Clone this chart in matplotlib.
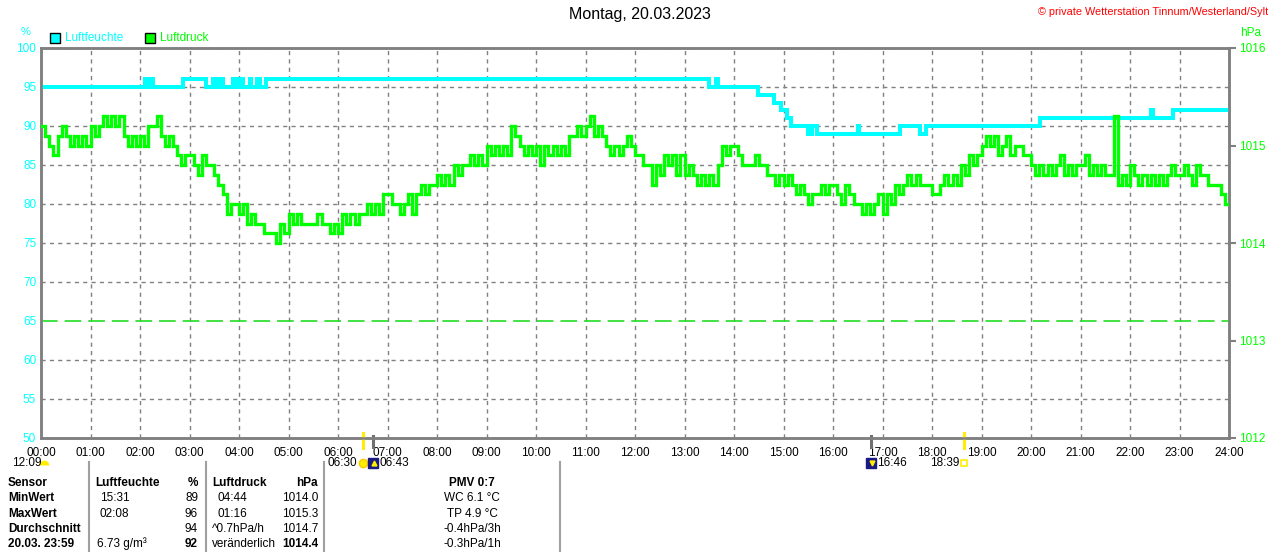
# -*- coding: utf-8 -*-
# Tagesgrafik Luftfeuchte / Luftdruck, Wetterstation Tinnum

import matplotlib.pyplot as plt
import numpy as np
from matplotlib.lines import Line2D
from matplotlib.patches import Rectangle

plt.rcParams['font.family'] = ['Liberation Sans', 'DejaVu Sans']
plt.rcParams['lines.scale_dashes'] = False

W, H = 1280, 552
CYAN = '#00ffff'
GRUEN = '#00ff00'
GRAU = '#808080'

# Luftfeuchte in %, Zeitpunkte an denen sich der Wert aendert
feuchte_zeit = ["00:00", "02:06", "02:09", "02:12", "02:16", "02:52", "03:20",
                "03:29", "03:33", "03:37", "03:41", "03:53", "03:57", "04:01",
                "04:05", "04:13", "04:15", "04:22", "04:25", "04:33", "13:30",
                "13:38", "13:41", "14:29", "14:48", "14:57", "15:04", "15:09",
                "15:30", "15:35", "15:40", "16:30", "16:32", "17:21", "17:45",
                "17:53", "20:11", "22:26", "22:28", "22:52", "24:00"]
feuchte_wert = [95, 96, 95, 96, 95, 96, 95, 96, 95, 96, 95, 96, 95, 96, 95,
                96, 95, 96, 95, 96, 95, 96, 95, 94, 93, 92, 91, 90, 89, 90,
                89, 90, 89, 90, 89, 90, 91, 92, 91, 92, 92]

# Luftdruck alle 5 Minuten, Zehntel hPa ueber 1014.0 (eine Zeile je Stunde)
druck_basis = 1014.0
druck_zehntel = [
    12, 11, 10, 9, 11, 12, 11, 10, 11, 10, 11, 10,   # 00
    12, 11, 12, 13, 12, 13, 12, 13, 11, 10, 11, 10,  # 01
    11, 10, 12, 12, 13, 11, 10, 11, 10, 9, 8, 9,     # 02
    9, 8, 7, 9, 8, 8, 7, 6, 5, 3, 4, 4,              # 03
    3, 4, 2, 3, 2, 2, 1, 1, 1, 0, 2, 1,              # 04
    3, 2, 3, 2, 2, 2, 2, 3, 2, 2, 1, 2,              # 05
    1, 3, 2, 3, 2, 3, 3, 4, 3, 4, 3, 5,              # 06
    5, 4, 4, 3, 4, 5, 3, 5, 6, 5, 6, 6,              # 07
    7, 6, 7, 6, 8, 7, 8, 8, 9, 8, 9, 8,              # 08
    10, 9, 10, 9, 10, 9, 12, 11, 10, 9, 10, 9,       # 09
    10, 8, 10, 9, 10, 9, 10, 9, 11, 11, 12, 11,      # 10
    12, 13, 11, 12, 11, 10, 9, 10, 9, 10, 11, 10,    # 11
    9, 9, 8, 8, 6, 8, 7, 9, 8, 9, 7, 9,              # 12
    7, 8, 7, 6, 7, 6, 7, 6, 8, 10, 9, 10,            # 13
    10, 9, 8, 8, 8, 9, 8, 8, 7, 7, 6, 7,             # 14
    6, 7, 6, 5, 6, 5, 4, 5, 5, 6, 5, 6,              # 15
    6, 5, 4, 6, 5, 4, 4, 3, 4, 3, 4, 5,              # 16
    3, 5, 4, 6, 5, 6, 7, 6, 7, 6, 6, 6,              # 17
    5, 5, 6, 7, 6, 7, 6, 8, 7, 9, 8, 9,              # 18
    10, 11, 10, 11, 9, 10, 11, 9, 10, 10, 9, 9,      # 19
    8, 7, 8, 7, 8, 7, 8, 9, 7, 8, 7, 8,              # 20
    8, 9, 7, 8, 7, 8, 7, 7, 13, 6, 7, 6,             # 21
    8, 7, 6, 7, 6, 7, 6, 7, 6, 7, 8, 7,              # 22
    7, 8, 7, 6, 8, 7, 7, 6, 6, 6, 5, 4,              # 23
    4,                                               # 24:00
]
normaldruck = 1013.2

# Sonne / Mond
sonne_auf, sonne_unter = "06:30", "18:39"
mond_auf, mond_unter = "06:43", "16:46"

stunden = list(range(25))
feuchte_ticks = list(range(50, 101, 5))
druck_ticks = [1012, 1013, 1014, 1015, 1016]

# Tabelle unten
zeilen = ["Sensor", "MinWert", "MaxWert", "Durchschnitt", "20.03. 23:59"]
feuchte_zeiten = ["15:31", "02:08", "", "6.73 g/m³"]
feuchte_werte = ["89", "96", "94", "92"]
druck_zeiten = ["04:44", "01:16", "^0.7hPa/h", "veränderlich"]
druck_werte = ["1014.0", "1015.3", "1014.7", "1014.4"]
extra = ["PMV 0:7", "WC 6.1 °C", "TP 4.9 °C", "-0.4hPa/3h", "-0.3hPa/1h"]


def stunde(s):
    h, m = s.split(":")
    return int(h) + int(m) / 60.0


def fx(x):
    return x / W


def fy(y):
    return 1 - y / H


fig = plt.figure(figsize=(W / 100, H / 100), dpi=100)
ax = fig.add_axes([fx(41), fy(438), (1229 - 41) / W, (438 - 48) / H])

t_feuchte = [stunde(s) for s in feuchte_zeit]
ax.plot(t_feuchte, feuchte_wert, color=CYAN, lw=2.9, drawstyle='steps-post',
        solid_joinstyle='miter', zorder=3)

ax.set_xlim(0, 24)
ax.set_ylim(50, 100)
ax.set_xticks(stunden)
ax.set_xticklabels(["%02d:00" % h for h in stunden])
ax.set_yticks(feuchte_ticks)
ax.tick_params(axis='x', length=0, pad=6.5, labelsize=8.5, colors='black')
ax.tick_params(axis='y', length=0, pad=3.5, labelsize=8.5, labelcolor=CYAN)
ax.grid(True, color=GRAU, lw=1.0, linestyle=(0, (3, 3)))
for wert, gl in zip(feuchte_ticks, ax.yaxis.get_gridlines()):
    if wert == 65:
        gl.set_visible(False)
for sp in ax.spines.values():
    sp.set_color(GRAU)
    sp.set_linewidth(1.8)

ax2 = ax.twinx()
t_druck = np.arange(len(druck_zehntel)) * 5 / 60.0
druck = druck_basis + np.array(druck_zehntel) / 10.0
ax2.plot(t_druck, druck, color=GRUEN, lw=2.4, drawstyle='steps-post',
         solid_joinstyle='miter', zorder=3)
ax2.axhline(normaldruck, color='#22dd22', lw=1.2, linestyle=(0, (12, 5)))
ax2.set_ylim(1012, 1016)
ax2.set_yticks(druck_ticks)
ax2.tick_params(axis='y', length=5, width=1.5, color=GRAU, pad=2.5,
                labelsize=8.5, labelcolor=GRUEN)
for sp in ax2.spines.values():
    sp.set_color(GRAU)
    sp.set_linewidth(1.8)

# Markierungen Sonnen- und Mondzeiten an der Zeitachse
trans = ax.get_xaxis_transform()
for s in (sonne_auf, sonne_unter):
    ax.plot([stunde(s)] * 2, [0.013, -0.026], color='#ffee00', lw=2.2,
            transform=trans, clip_on=False, zorder=5)
for s in (mond_auf, mond_unter):
    ax.plot([stunde(s)] * 2, [0.005, -0.023], color='#707070', lw=2.2,
            transform=trans, clip_on=False, zorder=5)

y_icon = -0.064
ax.plot(stunde(sonne_auf), y_icon, marker='o', ms=6, color='#ffee00',
        mec='#ffcc00', transform=trans, clip_on=False)
ax.plot(stunde(sonne_unter), y_icon, marker='s', ms=5, mfc='none',
        mec='#ffee00', mew=1.2, transform=trans, clip_on=False)
for s, pfeil in ((mond_auf, '^'), (mond_unter, 'v')):
    ax.plot(stunde(s), y_icon, marker='s', ms=7.5, color='#1a1a80',
            transform=trans, clip_on=False)
    ax.plot(stunde(s) + 0.02, y_icon, marker=pfeil, ms=3.5, color='#ffee00',
            transform=trans, clip_on=False)
fig.text(fx(12), fy(463), "12:09", fontsize=8.5, va='center')
ax.plot(0.07, y_icon - 0.004, marker='o', ms=7, fillstyle='top',
        mfc='#ffee00', mfcalt='none', mec='none', transform=trans,
        clip_on=False)
fig.text(fx(357), fy(463), sonne_auf, fontsize=8.5, va='center', ha='right')
fig.text(fx(379), fy(463), mond_auf, fontsize=8.5, va='center')
fig.text(fx(877), fy(463), mond_unter, fontsize=8.5, va='center')
fig.text(fx(959), fy(463), sonne_unter, fontsize=8.5, va='center', ha='right')

# Kopf
fig.text(fx(640), fy(15), "Montag, 20.03.2023", fontsize=11.5,
         ha='center', va='center')
fig.text(fx(1268), fy(12), "© private Wetterstation Tinnum/Westerland/Sylt",
         fontsize=7.8, color='red', ha='right', va='center')
fig.text(fx(26), fy(32), "%", fontsize=8, color=CYAN, ha='center', va='center')
fig.text(fx(1240), fy(33), "hPa", fontsize=8.5, color=GRUEN, va='center')
fig.add_artist(Rectangle((fx(50), fy(43)), 10 / W, 10 / H, facecolor=CYAN,
                         edgecolor='black', lw=1, transform=fig.transFigure))
fig.text(fx(65), fy(38), "Luftfeuchte", fontsize=8.5, color=CYAN, va='center')
fig.add_artist(Rectangle((fx(145), fy(43)), 10 / W, 10 / H, facecolor=GRUEN,
                         edgecolor='black', lw=1, transform=fig.transFigure))
fig.text(fx(160), fy(38), "Luftdruck", fontsize=8.5, color=GRUEN, va='center')

# Tabelle
for x in (89, 206, 324, 560):
    fig.add_artist(Line2D([fx(x), fx(x)], [fy(462), fy(552)], color='#a0a0a0',
                          lw=1.5, transform=fig.transFigure))
zeilen_y = [483, 498, 514, 529, 544]
for i, (txt, y) in enumerate(zip(zeilen, zeilen_y)):
    fig.text(fx(8), fy(y), txt, fontsize=8.5, weight='bold', va='center')
fig.text(fx(95), fy(zeilen_y[0]), "Luftfeuchte", fontsize=8.5, weight='bold', va='center')
fig.text(fx(198), fy(zeilen_y[0]), "%", fontsize=8.5, weight='bold', va='center', ha='right')
fig.text(fx(212), fy(zeilen_y[0]), "Luftdruck", fontsize=8.5, weight='bold', va='center')
fig.text(fx(318), fy(zeilen_y[0]), "hPa", fontsize=8.5, weight='bold', va='center', ha='right')
for i in range(4):
    y = zeilen_y[i + 1]
    fett = 'bold' if i == 3 else 'normal'
    fig.text(fx(100 if i < 3 else 97), fy(y), feuchte_zeiten[i], fontsize=8.5, va='center')
    fig.text(fx(198), fy(y), feuchte_werte[i], fontsize=8.5, va='center',
             ha='right', weight=fett)
    fig.text(fx(218 if i < 2 else 212), fy(y), druck_zeiten[i], fontsize=8.5,
             va='center')
    fig.text(fx(318), fy(y), druck_werte[i], fontsize=8.5, va='center',
             ha='right', weight=fett)
for i, (txt, y) in enumerate(zip(extra, zeilen_y)):
    fig.text(fx(472), fy(y), txt, fontsize=8.5, va='center', ha='center',
             weight='bold' if i == 0 else 'normal')

fig.savefig("out.png", dpi=100)
